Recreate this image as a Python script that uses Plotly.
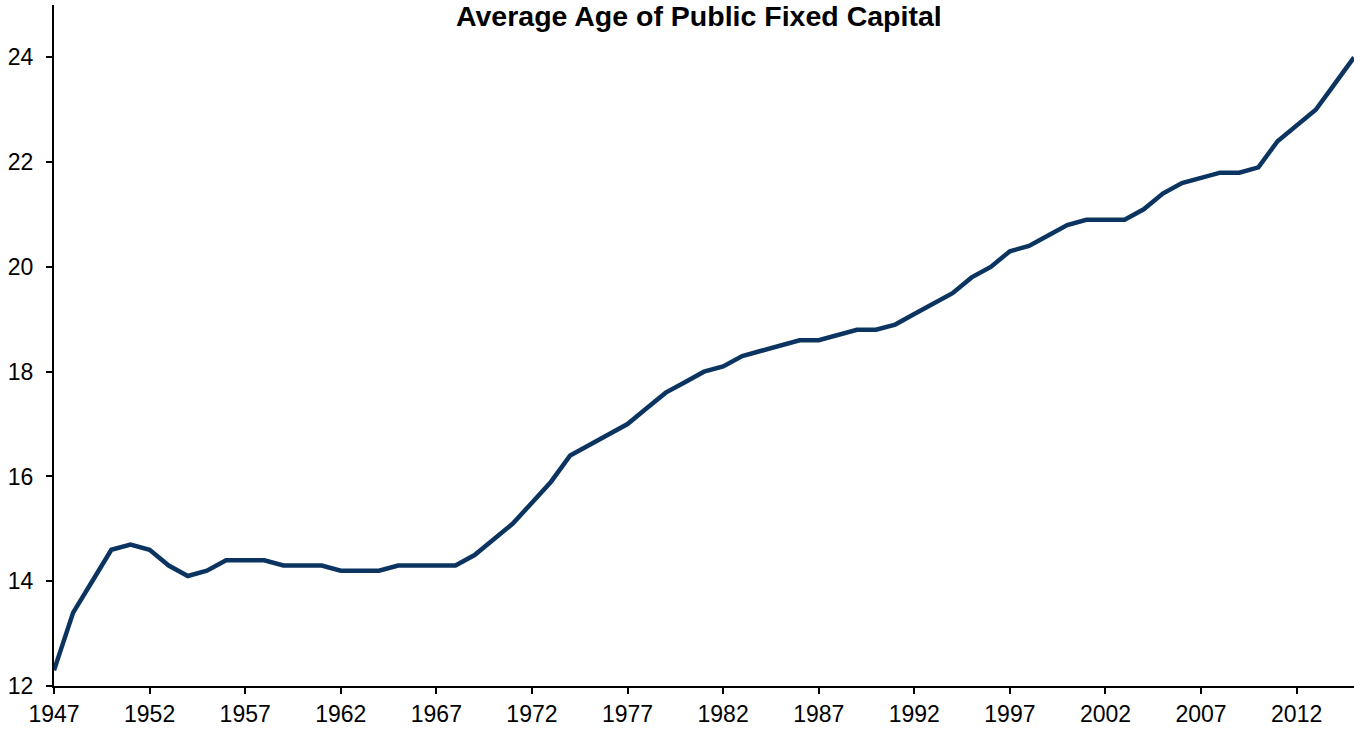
import plotly.graph_objects as go

# Average age of public fixed capital, in years
years = list(range(1947, 2016))
avg_age = [
    12.3, 13.4, 14.0, 14.6, 14.7, 14.6, 14.3, 14.1, 14.2, 14.4,
    14.4, 14.4, 14.3, 14.3, 14.3, 14.2, 14.2, 14.2, 14.3, 14.3,
    14.3, 14.3, 14.5, 14.8, 15.1, 15.5, 15.9, 16.4, 16.6, 16.8,
    17.0, 17.3, 17.6, 17.8, 18.0, 18.1, 18.3, 18.4, 18.5, 18.6,
    18.6, 18.7, 18.8, 18.8, 18.9, 19.1, 19.3, 19.5, 19.8, 20.0,
    20.3, 20.4, 20.6, 20.8, 20.9, 20.9, 20.9, 21.1, 21.4, 21.6,
    21.7, 21.8, 21.8, 21.9, 22.4, 22.7, 23.0, 23.5, 24.0,
]
x_ticks = list(range(1947, 2013, 5))
y_ticks = [12, 14, 16, 18, 20, 22, 24]

fig = go.Figure(
    go.Scatter(
        x=years,
        y=avg_age,
        mode="lines",
        line=dict(color="#0B3461", width=4.5),
        hoverinfo="x+y",
    )
)

font = "Liberation Sans, Arial, sans-serif"
fig.update_layout(
    width=1354,
    height=731,
    margin=dict(l=54, r=0, t=5, b=45),
    paper_bgcolor="white",
    plot_bgcolor="white",
    showlegend=False,
    font=dict(family=font, size=23, color="black"),
    annotations=[
        dict(
            text="<b>Average Age of Public Fixed Capital</b>",
            x=0.496, xref="paper", xanchor="center",
            y=1.0, yref="paper", yanchor="top", yshift=7,
            showarrow=False,
            font=dict(family=font, size=28.5, color="black"),
        )
    ],
)
fig.update_xaxes(
    range=[1947, 2015],
    tickvals=x_ticks,
    ticktext=[str(v) for v in x_ticks],
    showgrid=False,
    zeroline=False,
    showline=True,
    linecolor="black",
    linewidth=2,
    ticks="outside",
    ticklen=6,
    tickwidth=2,
    tickcolor="black",
)
fig.update_yaxes(
    range=[12, 25],
    tickvals=y_ticks,
    showgrid=False,
    zeroline=False,
    showline=True,
    linecolor="black",
    linewidth=2,
    ticks="outside",
    ticklen=6,
    tickwidth=2,
    tickcolor="black",
    ticklabelstandoff=8,
)

fig.write_html("out.html")
